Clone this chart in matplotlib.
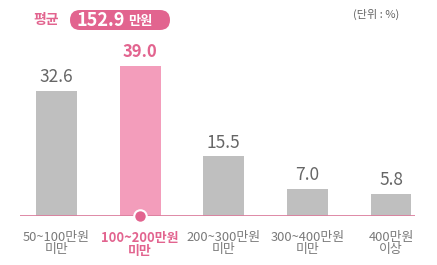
import matplotlib
matplotlib.use("Agg")
import matplotlib.pyplot as plt
import numpy as np
from matplotlib.patches import FancyBboxPatch

plt.rcParams['font.family'] = ['Noto Sans CJK KR', 'DejaVu Sans']

categories = ["50~100만원\n미만", "100~200만원\n미만", "200~300만원\n미만", "300~400만원\n미만", "400만원\n이상"]
values = [32.6, 39.0, 15.5, 7.0, 5.8]
highlight = 1
average_label = "152.9"
average_unit = "만원"
unit_text = "(단위 : %)"

GRAY = "#bfbfbf"
PINK_BAR = "#f39dbb"
PINK = "#e2648f"
PINK_LINE = "#dc7f9e"
TEXT_GRAY = "#666666"

fig = plt.figure(figsize=(4.37, 2.65), dpi=100)
ax = fig.add_axes([20/437, 1 - 216/265, 395/437, 173/265])

x = np.arange(len(values))
colors = [PINK_BAR if i == highlight else GRAY for i in range(len(values))]
bars = ax.bar(x, values, width=0.49, color=colors, zorder=2)

for i, (xi, v) in enumerate(zip(x, values)):
    if i == highlight:
        ax.text(xi, v + 1.4, f"{v:.1f}", ha='center', va='bottom', fontsize=12,
                color=PINK, fontweight='bold')
    else:
        ax.text(xi, v + 1.2, f"{v:.1f}", ha='center', va='bottom', fontsize=12.5,
                color=TEXT_GRAY)

ax.axhline(0, color=PINK_LINE, lw=2, zorder=3)
ax.plot([x[highlight]], [0], marker='o', markersize=9, markerfacecolor=PINK,
        markeredgecolor='white', markeredgewidth=1.5, zorder=4, clip_on=False)

ax.set_xlim(-0.437, 4.287)
ax.set_ylim(0, 45)
ax.axis('off')

for i, (xi, lab) in enumerate(zip(x, categories)):
    ax.annotate(lab, xy=(xi, 0), xytext=(0, -11), textcoords='offset points',
                ha='center', va='top', fontsize=9.3, linespacing=0.85,
                color=PINK if i == highlight else "#7a7a7a",
                fontweight='bold' if i == highlight else 'normal')

# header
fig.text(0.33, 2.65 - 0.20, "평균", transform=fig.dpi_scale_trans, ha='left', va='center',
         fontsize=10, color=PINK, fontweight='bold')
box = FancyBboxPatch((0.70, 2.65 - 0.30), 1.00, 0.20,
                     boxstyle="round,pad=0,rounding_size=0.1",
                     transform=fig.dpi_scale_trans, facecolor=PINK, edgecolor='none')
fig.patches.append(box)
fig.text(0.76, 2.65 - 0.205, average_label, transform=fig.dpi_scale_trans,
         ha='left', va='center', fontsize=13, color='white', fontweight='bold')
fig.text(1.28, 2.65 - 0.213, average_unit, transform=fig.dpi_scale_trans, ha='left', va='center',
         fontsize=9.5, color='white', fontweight='bold')
fig.text(3.76, 2.65 - 0.14, unit_text, transform=fig.dpi_scale_trans, ha='center', va='center',
         fontsize=8, color=TEXT_GRAY)

fig.savefig("out.png", dpi=100, facecolor='white')
